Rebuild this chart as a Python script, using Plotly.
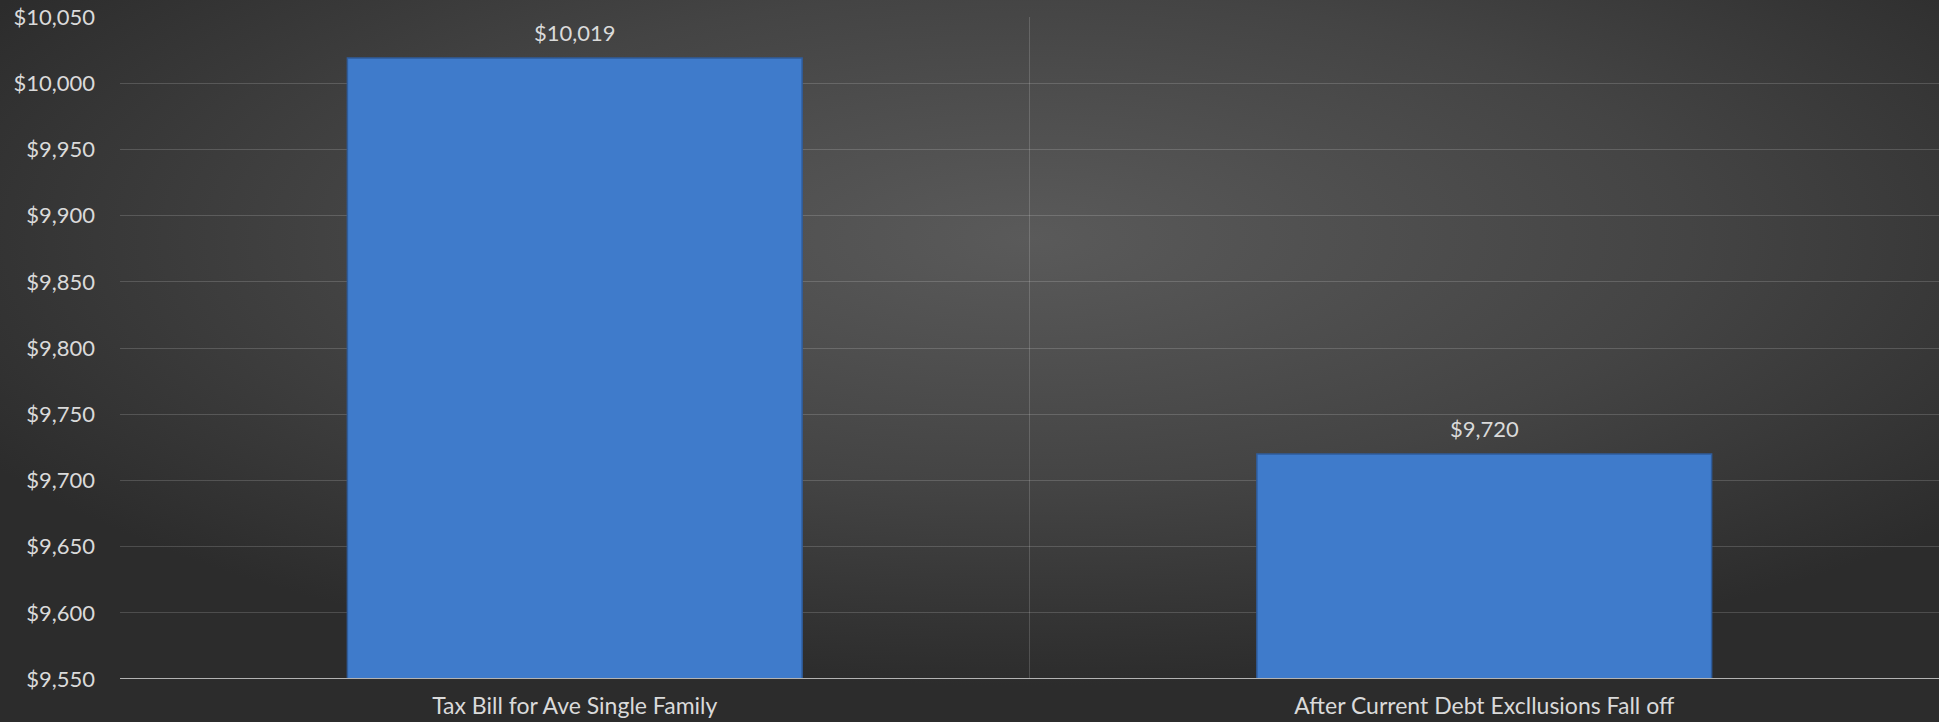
import base64
import plotly.graph_objects as go

categories = ["Tax Bill for Ave Single Family", "After Current Debt Excllusions Fall off"]
values = [10019, 9720]
tick_vals = [9550, 9600, 9650, 9700, 9750, 9800, 9850, 9900, 9950, 10000, 10050]
tick_text = ["$9,550", "$9,600", "$9,650", "$9,700", "$9,750", "$9,800", "$9,850",
             "$9,900", "$9,950", "$10,000", "$10,050"]
label_text = ["$10,019", "$9,720"]

W, H = 1939, 722
ML, MR, MT, MB = 120, 0, 17, 43
PW, PH = W - ML - MR, H - MT - MB

svg = f'''<svg xmlns="http://www.w3.org/2000/svg" width="{W}" height="{H}" viewBox="0 0 {W} {H}" preserveAspectRatio="none">
<defs><radialGradient id="g" cx="0.53" cy="0.33" r="0.62" gradientUnits="objectBoundingBox">
<stop offset="0" stop-color="#5a5a5a"/><stop offset="0.55" stop-color="#444444"/><stop offset="1" stop-color="#2c2c2c"/>
</radialGradient></defs><rect width="{W}" height="{H}" fill="url(#g)"/></svg>'''
bg_uri = "data:image/svg+xml;base64," + base64.b64encode(svg.encode()).decode()

FONT = "Lato"
TXT = "#dadada"

fig = go.Figure()
fig.add_trace(go.Bar(
    x=categories, y=values,
    marker=dict(color="#3f7bcb", line=dict(color="#2f5c9c", width=1.5)),
    width=0.5,
    hoverinfo="skip",
))
for c, v, t in zip(categories, values, label_text):
    fig.add_annotation(x=c, y=v, text=t, showarrow=False, yanchor="bottom", yshift=10,
                       font=dict(family=FONT, size=22, color=TXT))

fig.add_layout_image(dict(
    source=bg_uri, xref="paper", yref="paper",
    x=-ML / PW, y=1 + MT / PH, sizex=W / PW, sizey=H / PH,
    xanchor="left", yanchor="top", sizing="stretch", layer="below",
))

fig.update_layout(
    width=W, height=H,
    margin=dict(l=ML, r=MR, t=MT, b=MB, pad=0),
    paper_bgcolor="#333333", plot_bgcolor="rgba(0,0,0,0)",
    showlegend=False, bargap=0.5,
    font=dict(family=FONT, size=22, color=TXT),
)
fig.update_xaxes(
    type="category", tickson="boundaries", showgrid=True,
    gridcolor="rgba(255,255,255,0.16)", gridwidth=1,
    ticks="", showline=False, zeroline=False,
    tickfont=dict(family=FONT, size=23, color=TXT),
    ticklabelstandoff=11,
    range=[-0.5, 1.5],
)
fig.update_yaxes(
    range=[9550, 10050], tickvals=tick_vals, ticktext=tick_text,
    showgrid=True, gridcolor="rgba(255,255,255,0.16)", gridwidth=1,
    zeroline=False, showline=False, ticks="", ticklabelstandoff=24,
    tickfont=dict(family=FONT, size=22, color=TXT),
)
fig.add_shape(type="line", xref="paper", yref="y", x0=0, x1=1, y0=9550, y1=9550,
              line=dict(color="#b3b3b3", width=2))

fig.write_html("out.html", config={"displayModeBar": False},
               post_script="document.body.style.margin='0';document.body.style.overflow='hidden';")
